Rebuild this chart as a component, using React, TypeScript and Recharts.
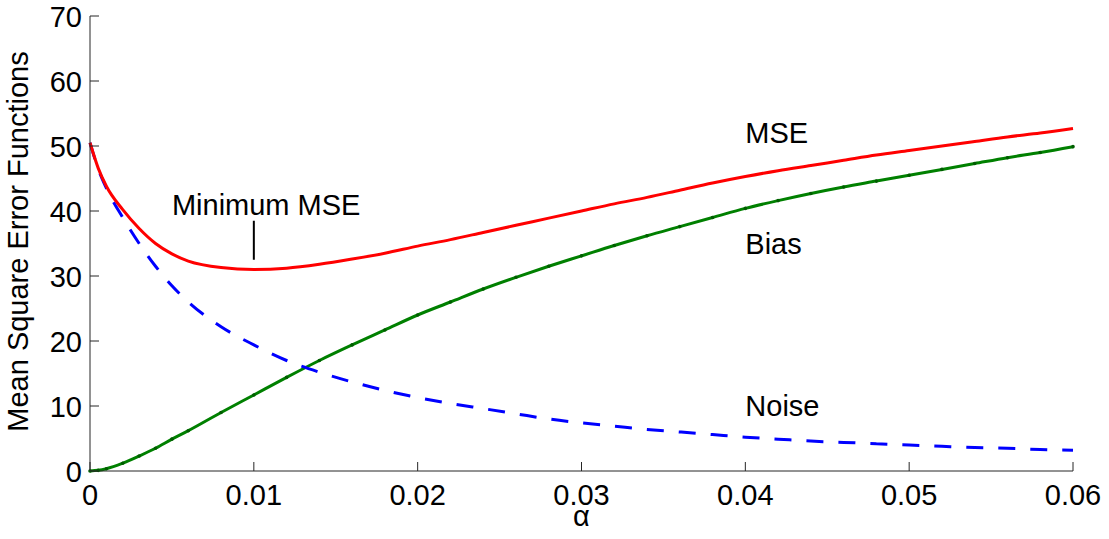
import { LineChart, Line, XAxis, YAxis, ReferenceLine, ReferenceDot } from 'recharts'

// α values the curves are read at
const ALPHA = [
  0, 0.0005, 0.001, 0.002, 0.003, 0.004, 0.005, 0.006, 0.008, 0.01,
  0.012, 0.014, 0.016, 0.018, 0.02, 0.022, 0.024, 0.026, 0.028, 0.03,
  0.032, 0.034, 0.036, 0.038, 0.04, 0.042, 0.044, 0.046, 0.048, 0.05,
  0.052, 0.054, 0.056, 0.058, 0.06,
]
const MSE = [
  50.5, 46.6, 43.8, 40.2, 37.3, 35.0, 33.4, 32.3, 31.3, 31.0,
  31.2, 31.8, 32.6, 33.5, 34.6, 35.6, 36.7, 37.8, 38.9, 40.0,
  41.1, 42.1, 43.2, 44.3, 45.3, 46.2, 47.0, 47.8, 48.6, 49.3,
  50.0, 50.7, 51.4, 52.0, 52.7,
]
const BIAS = [
  0, 0.1, 0.35, 1.2, 2.3, 3.5, 4.9, 6.2, 9.0, 11.7,
  14.4, 17.0, 19.4, 21.7, 24.0, 26.0, 28.0, 29.8, 31.5, 33.1,
  34.7, 36.2, 37.6, 39.0, 40.4, 41.6, 42.7, 43.7, 44.6, 45.5,
  46.4, 47.3, 48.2, 49.0, 49.9,
]
const NOISE = [
  50.5, 46.5, 43.5, 39.0, 35.0, 31.5, 28.5, 26.0, 22.2, 19.4,
  17.0, 15.2, 13.7, 12.4, 11.3, 10.4, 9.6, 8.8, 8.0, 7.4,
  6.9, 6.4, 6.0, 5.6, 5.2, 4.9, 4.6, 4.4, 4.2, 4.0,
  3.8, 3.6, 3.5, 3.3, 3.2,
]

const X_TICKS = [0, 0.01, 0.02, 0.03, 0.04, 0.05, 0.06]
const X_TICK_LABELS = ['0', '0.01', '0.02', '0.03', '0.04', '0.05', '0.06']
const Y_TICKS = [0, 10, 20, 30, 40, 50, 60, 70]

// text notes placed in data coordinates (left edge, vertical centre)
const NOTES = [
  { text: 'MSE', x: 0.04, y: 52 },
  { text: 'Bias', x: 0.04, y: 35 },
  { text: 'Noise', x: 0.04, y: 10.1 },
  { text: 'Minimum MSE', x: 0.005, y: 40.9 },
]
const MIN_MARK = { x: 0.01, from: 32.5, to: 38.5 }

const FONT = '"Liberation Sans", Arial, Helvetica, sans-serif'
const FS = 29
const AXIS = '#262626'

const data = ALPHA.map((a, i) => ({ a, mse: MSE[i], bias: BIAS[i], noise: NOISE[i] }))

// ticks point into the plot, like the MATLAB original
const YTick = ({ x, y, payload }: any) => (
  <g>
    <line x1={x + 8} x2={x + 17} y1={y} y2={y} stroke={AXIS} />
    <text x={x} y={y} dy={10.5} textAnchor="end" fontSize={FS} fontFamily={FONT} fill="#000">
      {payload.value}
    </text>
  </g>
)

const XTick = ({ x, y, payload }: any) => (
  <g>
    <line x1={x} x2={x} y1={y - 14} y2={y - 23} stroke={AXIS} />
    <text x={x} y={y} dy={20} textAnchor="middle" fontSize={FS} fontFamily={FONT} fill="#000">
      {X_TICK_LABELS[X_TICKS.indexOf(payload.value)] ?? payload.value}
    </text>
  </g>
)

export default function App() {
  return (
    <div style={{ position: 'absolute', left: 0, top: 0, width: 1109, height: 539, background: '#fff' }}>
      <LineChart
        width={1109}
        height={539}
        data={data}
        margin={{ top: 16, right: 36, bottom: 0, left: 0 }}
        style={{ fontFamily: FONT }}
      >
        <XAxis
          dataKey="a"
          type="number"
          domain={[0, 0.06]}
          ticks={X_TICKS}
          height={68}
          tickSize={0}
          tickMargin={14}
          tick={<XTick />}
          axisLine={{ stroke: AXIS }}
          tickLine={false}
          interval={0}
          label={{ value: 'α', position: 'insideBottom', offset: 13, fontSize: FS, fill: '#000', fontFamily: FONT }}
        />
        <YAxis
          type="number"
          domain={[0, 70]}
          ticks={Y_TICKS}
          width={90}
          tickSize={0}
          tickMargin={8}
          tick={<YTick />}
          axisLine={{ stroke: AXIS }}
          tickLine={false}
          interval={0}
          label={() => (
            <text
              x={28}
              y={241.5}
              transform="rotate(-90, 28, 241.5)"
              textAnchor="middle"
              fontSize={FS}
              fontFamily={FONT}
              fill="#000"
            >
              Mean Square Error Functions
            </text>
          )}
        />
        <Line
          dataKey="bias"
          type="monotone"
          stroke="#008000"
          strokeWidth={3}
          dot={{ r: 1.8, fill: '#005c00', stroke: 'none' }}
          isAnimationActive={false}
        />
        <Line
          dataKey="noise"
          type="monotone"
          stroke="#0000ff"
          strokeWidth={3}
          strokeDasharray="17 15"
          dot={false}
          isAnimationActive={false}
        />
        <Line
          dataKey="mse"
          type="monotone"
          stroke="#ff0000"
          strokeWidth={3}
          dot={false}
          isAnimationActive={false}
        />
        <ReferenceLine
          segment={[{ x: MIN_MARK.x, y: MIN_MARK.from }, { x: MIN_MARK.x, y: MIN_MARK.to }]}
          stroke="#000"
          strokeWidth={2}
        />
        {NOTES.map(n => (
          <ReferenceDot
            key={n.text}
            x={n.x}
            y={n.y}
            r={0}
            fill="none"
            stroke="none"
            label={{ value: n.text, position: 'right', offset: 0, fontSize: FS, fill: '#000', fontFamily: FONT }}
          />
        ))}
      </LineChart>
    </div>
  )
}
